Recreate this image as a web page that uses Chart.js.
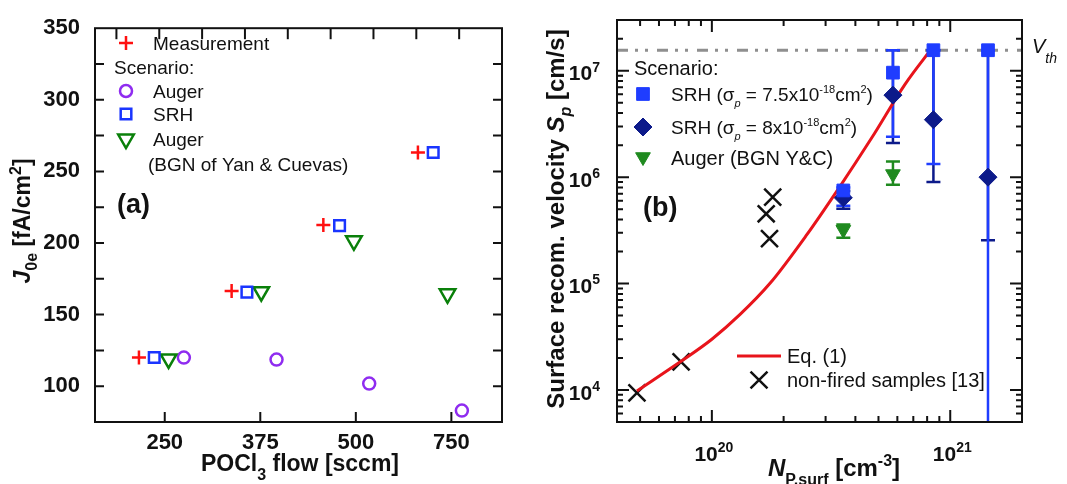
<!DOCTYPE html>
<html>
<head>
<meta charset="utf-8">
<script src="https://cdn.jsdelivr.net/npm/chart.js@4.4.1/dist/chart.umd.min.js"></script>
<style>
  html, body { margin: 0; padding: 0; background: #fff; }
  #wrap { position: relative; width: 1067px; height: 484px; }
  canvas { position: absolute; top: 0; }
  #ca { left: 0; width: 540px; height: 484px; }
  #cb { left: 540px; width: 527px; height: 484px; }
</style>
</head>
<body>
<div id="wrap">
  <canvas id="ca" width="540" height="484"></canvas>
  <canvas id="cb" width="527" height="484"></canvas>
</div>
<script>
const FONT = '"Liberation Sans", Arial, Helvetica, sans-serif';
const INK = '#111';

// ---- panel (a): J0e vs POCl3 flow (x in tick index units) ----
const flowTicks = [1, 2, 3, 4];
const flowLabels = ['250', '375', '500', '750'];
const j0eTicks = [100, 150, 200, 250, 300, 350];
const measX = [0.73, 1.70, 2.66, 3.65];
const measY = [120, 166.4, 212.6, 263.2];
const srhX = [0.89, 1.86, 2.83, 3.81];
const srhY = [120, 165.7, 212.1, 263.2];
const bgnX = [1.04, 2.01, 2.98, 3.96];
const bgnY = [119, 166, 201.5, 164.5];
const augerX = [1.20, 2.17, 3.14, 4.11];
const augerY = [120, 118.6, 101.8, 83];

// ---- panel (b): Sp vs N_P,surf ----
const nDecades = [1e20, 1e21];
const sDecades = [1e4, 1e5, 1e6, 1e7];
const vth = 1.56e7;
const eqN = [4.85e19, 7.4e19, 1.0e20, 1.31e20, 1.75e20, 2.48e20, 3.41e20, 4.7e20, 6.47e20, 8.5e20];
const eqS = [9.8e3, 1.85e4, 3.0e4, 5.1e4, 1.0e5, 2.8e5, 7.9e5, 2.37e6, 7.5e6, 1.7e7];
const nfN = [4.85e19, 7.43e19, 1.745e20, 1.69e20, 1.8e20];
const nfS = [9.4e3, 1.84e4, 2.64e5, 4.53e5, 6.5e5];
const colN = [3.56e20, 5.75e20, 8.5e20, 1.44e21];
const srh75S = [7.5e5, 9.6e6, 1.56e7, 1.56e7];
const srh75Lo = [5.4e5, 2.4e6, 1.33e6, 1e3];
const srh75Hi = [8.0e5, 1.56e7, 1.56e7, 1.56e7];
const srh8S = [6.4e5, 5.9e6, 3.47e6, 1.0e6];
const srh8Lo = [5.05e5, 2.1e6, 9.0e5, 2.55e5];
const srh8Hi = [7.4e5, 1.56e7, 1.56e7, 1.56e7];
const augN = [3.56e20, 5.75e20];
const augS = [3.2e5, 1.07e6];
const augLo = [2.7e5, 8.5e5];
const augHi = [3.6e5, 1.4e6];

const RED = '#ff1010', BLUE = '#1a35ff', PURPLE = '#8f2cf0', GREEN = '#0a800a';
const SQ = '#1f3dff', NAVY = '#0c1a8a', GREEN2 = '#1f8a1f', CURVE = '#e8141b';

function xy(xs, ys) { return xs.map((x, i) => ({ x, y: ys[i] })); }

// text with sub/superscripts; y is the visual middle of the line
function rich(ctx, parts, x, y, size, align, bold, small) {
  const k = small || 0.68;
  const items = parts.map(p => {
    const s = (p.sub || p.sup) ? size * k : size;
    const dy = p.dy !== undefined ? p.dy : (p.sub ? size * 0.3 : p.sup ? -size * 0.42 : 0);
    return { t: p.t, dy, f: (p.it ? 'italic ' : '') + (bold ? 'bold ' : '') + Math.round(s) + 'px ' + FONT };
  });
  let w = 0;
  items.forEach(p => { ctx.font = p.f; p.w = ctx.measureText(p.t).width; w += p.w; });
  let cx = align === 'center' ? x - w / 2 : align === 'right' ? x - w : x;
  ctx.textAlign = 'left';
  ctx.textBaseline = 'alphabetic';
  ctx.fillStyle = INK;
  const base = y + size * 0.36;
  items.forEach(p => { ctx.font = p.f; ctx.fillText(p.t, cx, base + p.dy); cx += p.w; });
}

function marker(ctx, style, r, rot, stroke, fill, bw, x, y) {
  ctx.save();
  ctx.strokeStyle = stroke; ctx.fillStyle = fill; ctx.lineWidth = bw;
  Chart.helpers.drawPoint(ctx, { pointStyle: style, radius: r, rotation: rot, borderWidth: bw }, x, y);
  ctx.restore();
}

function frame(ctx, a) {
  ctx.save();
  ctx.strokeStyle = INK; ctx.lineWidth = 2;
  ctx.strokeRect(a.left, a.top, a.right - a.left, a.bottom - a.top);
  ctx.restore();
}

function vTicks(ctx, a, sc, vals, len, bottom, top) {
  ctx.save(); ctx.strokeStyle = INK; ctx.lineWidth = 2;
  vals.forEach(v => {
    const p = sc.getPixelForValue(v);
    if (p < a.left + 1 || p > a.right - 1) return;
    ctx.beginPath();
    if (bottom) { ctx.moveTo(p, a.bottom); ctx.lineTo(p, a.bottom - len); }
    if (top) { ctx.moveTo(p, a.top); ctx.lineTo(p, a.top + len); }
    ctx.stroke();
  });
  ctx.restore();
}

function hTicks(ctx, a, sc, vals, len) {
  ctx.save(); ctx.strokeStyle = INK; ctx.lineWidth = 2;
  vals.forEach(v => {
    const p = sc.getPixelForValue(v);
    if (p < a.top + 1 || p > a.bottom - 1) return;
    ctx.beginPath();
    ctx.moveTo(a.left, p); ctx.lineTo(a.left + len, p);
    ctx.moveTo(a.right, p); ctx.lineTo(a.right - len, p);
    ctx.stroke();
  });
  ctx.restore();
}

function minors(lo, hi) {
  const out = [];
  for (let e = Math.floor(Math.log10(lo)); e <= Math.ceil(Math.log10(hi)); e++) {
    for (let m = 2; m <= 9; m++) {
      const v = m * Math.pow(10, e);
      if (v > lo && v < hi) out.push(v);
    }
  }
  return out;
}

function vTitle(ctx, parts, x, y, size) {
  ctx.save();
  ctx.translate(x, y);
  ctx.rotate(-Math.PI / 2);
  rich(ctx, parts, 0, 0, size, 'center', true);
  ctx.restore();
}

const panelA = {
  id: 'panelA',
  afterDraw(chart) {
    const ctx = chart.ctx, a = chart.chartArea;
    const sx = chart.scales.x, st = chart.scales.xTop, sy = chart.scales.y;
    frame(ctx, a);
    vTicks(ctx, a, sx, flowTicks, 10, true, false);
    vTicks(ctx, a, st, [0, 1, 2, 3, 4, 5, 6, 7, 8, 9], 11, false, true);
    const yt = [];
    for (let v = 100; v < 350; v += 25) yt.push(v);
    hTicks(ctx, a, sy, yt, 9);

    vTitle(ctx, [{ t: 'J', it: true }, { t: '0e', sub: true }, { t: ' [fA/cm' }, { t: '2', sup: true }, { t: ']' }], 22, 221, 23);
    rich(ctx, [{ t: 'POCl' }, { t: '3', sub: true, dy: 9 }, { t: ' flow [sccm]' }], 300, 463, 23, 'center', true);

    // legend
    marker(ctx, 'cross', 7, 0, RED, RED, 2.5, 126, 43);
    rich(ctx, [{ t: 'Measurement' }], 153, 43, 19, 'left', false);
    rich(ctx, [{ t: 'Scenario:' }], 114, 67, 19, 'left', false);
    marker(ctx, 'circle', 6, 0, PURPLE, 'rgba(0,0,0,0)', 2.5, 126, 91);
    rich(ctx, [{ t: 'Auger' }], 153, 91, 19, 'left', false);
    marker(ctx, 'rect', 7.5, 0, BLUE, 'rgba(0,0,0,0)', 2.5, 126, 114);
    rich(ctx, [{ t: 'SRH' }], 153, 114, 19, 'left', false);
    marker(ctx, 'triangle', 9, 180, GREEN, 'rgba(0,0,0,0)', 2.5, 126, 139);
    rich(ctx, [{ t: 'Auger' }], 153, 139, 19, 'left', false);
    rich(ctx, [{ t: '(BGN of Yan & Cuevas)' }], 148, 164, 19, 'left', false);
    rich(ctx, [{ t: '(a)' }], 117, 203, 27, 'left', true);
  }
};

function errBars(ctx, sc, xs, lo, hi, color) {
  ctx.strokeStyle = color; ctx.lineWidth = 2.5;
  xs.forEach((n, i) => {
    const px = sc.x.getPixelForValue(n);
    const p1 = sc.y.getPixelForValue(lo[i]), p2 = sc.y.getPixelForValue(hi[i]);
    ctx.beginPath();
    ctx.moveTo(px, p1); ctx.lineTo(px, p2);
    ctx.moveTo(px - 7, p1); ctx.lineTo(px + 7, p1);
    ctx.moveTo(px - 7, p2); ctx.lineTo(px + 7, p2);
    ctx.stroke();
  });
}

const panelB = {
  id: 'panelB',
  beforeDatasetsDraw(chart) {
    const ctx = chart.ctx, a = chart.chartArea, sc = chart.scales;
    ctx.save();
    ctx.beginPath();
    ctx.rect(a.left, a.top, a.right - a.left, a.bottom - a.top);
    ctx.clip();
    const pv = sc.y.getPixelForValue(vth);
    ctx.strokeStyle = '#8f8f8f'; ctx.lineWidth = 3;
    ctx.setLineDash([11, 7, 3, 7, 3, 9]);
    ctx.beginPath(); ctx.moveTo(a.left, pv); ctx.lineTo(a.right, pv); ctx.stroke();
    ctx.setLineDash([]);
    errBars(ctx, sc, colN, srh8Lo, srh8Hi, NAVY);
    errBars(ctx, sc, colN, srh75Lo, srh75Hi, SQ);
    errBars(ctx, sc, augN, augLo, augHi, GREEN2);
    ctx.restore();
  },
  afterDraw(chart) {
    const ctx = chart.ctx, a = chart.chartArea;
    const sx = chart.scales.x, sy = chart.scales.y;
    frame(ctx, a);
    vTicks(ctx, a, sx, nDecades, 12, true, true);
    vTicks(ctx, a, sx, minors(sx.min, sx.max), 6, true, true);
    hTicks(ctx, a, sy, sDecades, 12);
    hTicks(ctx, a, sy, minors(sy.min, sy.max), 6);

    sDecades.forEach(v => {
      rich(ctx, [{ t: '10' }, { t: String(Math.round(Math.log10(v))), sup: true }], 60, sy.getPixelForValue(v) + 2, 21, 'right', true, 0.65);
    });
    nDecades.forEach(v => {
      rich(ctx, [{ t: '10' }, { t: String(Math.round(Math.log10(v))), sup: true }], sx.getPixelForValue(v) + 2, 453, 21, 'center', true, 0.65);
    });

    vTitle(ctx, [{ t: 'Surface recom. velocity ' }, { t: 'S', it: true }, { t: 'p', sub: true, it: true }, { t: ' [cm/s]' }], 15, 219, 24);
    rich(ctx, [{ t: 'N', it: true }, { t: 'P,surf', sub: true, dy: 9 }, { t: ' [cm' }, { t: '-3', sup: true }, { t: ']' }], 294, 467, 24, 'center', true);

    rich(ctx, [{ t: 'V', it: true }, { t: 'th', it: true, sub: true, dy: 10 }], 492, 46, 20, 'left', false);

    // legend
    rich(ctx, [{ t: 'Scenario:' }], 94, 68, 20, 'left', false);
    marker(ctx, 'rect', 9, 0, SQ, SQ, 1, 103, 94);
    rich(ctx, [{ t: 'SRH (\u03c3' }, { t: 'p', sub: true, it: true }, { t: ' = 7.5x10' }, { t: '-18', sup: true }, { t: 'cm' }, { t: '2', sup: true }, { t: ')' }], 131, 94, 19, 'left', false, 0.58);
    marker(ctx, 'rectRot', 9, 0, NAVY, NAVY, 1, 103, 127);
    rich(ctx, [{ t: 'SRH (\u03c3' }, { t: 'p', sub: true, it: true }, { t: ' = 8x10' }, { t: '-18', sup: true }, { t: 'cm' }, { t: '2', sup: true }, { t: ')' }], 131, 127, 19, 'left', false, 0.58);
    marker(ctx, 'triangle', 8.5, 180, GREEN2, GREEN2, 1, 103, 157);
    rich(ctx, [{ t: 'Auger (BGN Y&C)' }], 131, 158, 20, 'left', false);
    rich(ctx, [{ t: '(b)' }], 103, 206, 27, 'left', true);

    ctx.save();
    ctx.strokeStyle = CURVE; ctx.lineWidth = 3;
    ctx.beginPath(); ctx.moveTo(197, 356); ctx.lineTo(241, 356); ctx.stroke();
    ctx.restore();
    rich(ctx, [{ t: 'Eq. (1)' }], 247, 356, 20, 'left', false);
    marker(ctx, 'crossRot', 12, 0, INK, INK, 2.5, 219, 380);
    rich(ctx, [{ t: 'non-fired samples [13]' }], 247, 380, 20, 'left', false);
  }
};

const tickFontA = { family: FONT, size: 22, weight: 'bold' };

new Chart(document.getElementById('ca'), {
  type: 'scatter',
  data: {
    datasets: [
      { label: 'Measurement', data: xy(measX, measY), pointStyle: 'cross', pointRadius: 7, pointBorderWidth: 2.5, pointBorderColor: RED, pointBackgroundColor: RED },
      { label: 'SRH', data: xy(srhX, srhY), pointStyle: 'rect', pointRadius: 7.5, pointBorderWidth: 2.5, pointBorderColor: BLUE, pointBackgroundColor: 'rgba(0,0,0,0)' },
      { label: 'Auger BGN', data: xy(bgnX, bgnY), pointStyle: 'triangle', pointRotation: 180, pointRadius: 9, pointBorderWidth: 2.5, pointBorderColor: GREEN, pointBackgroundColor: 'rgba(0,0,0,0)' },
      { label: 'Auger', data: xy(augerX, augerY), pointStyle: 'circle', pointRadius: 6, pointBorderWidth: 2.5, pointBorderColor: PURPLE, pointBackgroundColor: 'rgba(0,0,0,0)' }
    ]
  },
  options: {
    responsive: false,
    animation: false,
    events: [],
    layout: { padding: { top: 20, right: 38, left: 0, bottom: 0 } },
    plugins: { legend: { display: false }, tooltip: { enabled: false } },
    scales: {
      x: {
        type: 'linear', min: 0.27, max: 4.53,
        afterBuildTicks: s => { s.ticks = flowTicks.map(v => ({ value: v })); },
        ticks: { callback: v => flowLabels[flowTicks.indexOf(v)], font: tickFontA, color: INK, padding: 8, maxRotation: 0, autoSkip: false },
        grid: { display: false, drawTicks: false },
        border: { display: false },
        afterFit: s => { s.height = 62; }
      },
      xTop: { type: 'linear', position: 'top', display: false, min: -0.5, max: 9, ticks: { stepSize: 1 } },
      y: {
        type: 'linear', min: 75, max: 350,
        afterBuildTicks: s => { s.ticks = j0eTicks.map(v => ({ value: v })); },
        ticks: { font: tickFontA, color: INK, padding: 15 },
        grid: { display: false, drawTicks: false },
        border: { display: false },
        afterFit: s => { s.width = 95; }
      }
    }
  },
  plugins: [panelA]
});

new Chart(document.getElementById('cb'), {
  type: 'scatter',
  data: {
    datasets: [
      { label: 'SRH 7.5', order: 1, data: xy(colN, srh75S), pointStyle: 'rect', pointRadius: 9, pointBorderWidth: 1, pointBorderColor: SQ, pointBackgroundColor: SQ },
      { label: 'SRH 8', order: 2, data: xy(colN, srh8S), pointStyle: 'rectRot', pointRadius: 9, pointBorderWidth: 1, pointBorderColor: NAVY, pointBackgroundColor: NAVY },
      { label: 'Auger', order: 3, data: xy(augN, augS), pointStyle: 'triangle', pointRotation: 180, pointRadius: 8.5, pointBorderWidth: 1, pointBorderColor: GREEN2, pointBackgroundColor: GREEN2 },
      { label: 'Eq. (1)', order: 4, data: xy(eqN, eqS), showLine: true, borderColor: CURVE, borderWidth: 3, pointRadius: 0, tension: 0.4, cubicInterpolationMode: 'monotone' },
      { label: 'non-fired', order: 5, data: xy(nfN, nfS), pointStyle: 'crossRot', pointRadius: 12, pointBorderWidth: 2.5, pointBorderColor: INK, pointBackgroundColor: INK }
    ]
  },
  options: {
    responsive: false,
    animation: false,
    events: [],
    layout: { padding: { top: 20, right: 45, left: 0, bottom: 0 } },
    plugins: { legend: { display: false }, tooltip: { enabled: false } },
    scales: {
      x: {
        type: 'logarithmic', min: 4e19, max: 2e21,
        ticks: { display: false },
        grid: { display: false, drawTicks: false },
        border: { display: false },
        afterFit: s => { s.height = 62; }
      },
      y: {
        type: 'logarithmic', min: 5e3, max: 3e7,
        ticks: { display: false },
        grid: { display: false, drawTicks: false },
        border: { display: false },
        afterFit: s => { s.width = 77; }
      }
    }
  },
  plugins: [panelB]
});
</script>
</body>
</html>
